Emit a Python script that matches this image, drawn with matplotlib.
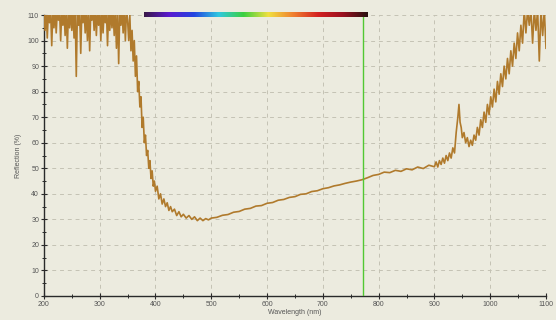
"""Reflection spectrum, recreated from a spectrometer screenshot."""

import matplotlib
matplotlib.use("Agg")
import matplotlib.pyplot as plt
import numpy as np
from matplotlib.colors import LinearSegmentedColormap
from matplotlib.ticker import MultipleLocator

# --- data ----------------------------------------------------------------
wavelength = [
    # saturated UV region (clipped at 110, with downward spikes)
    200, 202, 204, 206, 208, 210, 212, 214, 216, 218, 220, 222, 224, 226,
    228, 230, 232, 234, 236, 238, 240, 242, 244, 246, 248, 250, 252, 254,
    256, 258, 260, 262, 264, 266, 268, 270, 272, 274, 276, 278, 280, 282,
    284, 286, 288, 290, 292, 294, 296, 298, 300, 302, 304, 306, 308, 310,
    312, 314, 316, 318, 320, 322, 324, 326, 328, 330, 332, 334, 336, 338,
    340, 342, 344, 346, 348,
    # steep descent
    350, 352, 354, 356, 358, 360, 362, 364, 366, 368, 370, 372, 374, 376,
    378, 380, 382, 384, 386, 388, 390, 392, 394, 396, 398, 400, 403, 406,
    409, 412, 415, 418, 421, 424, 427, 430, 434, 438, 442, 446, 450, 455,
    460, 465, 470, 475, 480, 485, 490, 495, 500,
    # slow rise through the visible
    510, 520, 530, 540, 550, 560, 570, 580, 590, 600, 610, 620, 630, 640,
    650, 660, 670, 680, 690, 700, 710, 720, 730, 740, 750, 760, 770, 780,
    790, 800, 810, 820, 830, 840, 850, 860, 870, 880, 890, 900,
    # near infrared
    903, 906, 909, 912, 915, 918, 921, 924, 927, 930, 933, 936, 939, 942,
    944, 946, 948, 950, 953, 956, 959, 962, 965, 968, 971, 974, 977, 980,
    983, 986, 989, 992, 995, 998, 1001, 1004, 1007, 1010, 1013, 1016, 1019,
    1022, 1025, 1028, 1031, 1034, 1037, 1040, 1043, 1046, 1049, 1052, 1055,
    1058, 1061, 1064, 1067, 1070, 1073, 1076, 1079, 1082, 1085, 1088, 1091,
    1094, 1097, 1100,
]
reflection = [
    112, 104, 112, 101, 112, 107, 112, 98, 112, 105, 112, 103, 112, 108,
    112, 100, 112, 106, 112, 102, 112, 97, 112, 105, 112, 104, 112, 101,
    112, 86, 112, 106, 112, 95, 112, 107, 112, 103, 112, 100, 112, 96,
    112, 108, 112, 104, 112, 102, 112, 106, 112, 100, 112, 103, 112, 107,
    112, 98, 112, 104, 112, 105, 112, 102, 112, 97, 112, 91, 112, 106,
    112, 103, 112, 100, 112,
    108, 100, 110, 96, 104, 92, 100, 86, 94, 80, 84, 74, 78, 66,
    70, 60, 63, 55, 57, 50, 53, 46, 49, 43, 45, 41, 43, 38,
    40, 36, 38, 35, 36.5, 33.5, 35, 33, 34, 31.5, 33, 31, 32, 30.5,
    31.5, 30, 31, 29.5, 30.5, 29.5, 30.3, 29.8, 30.5,
    30.8, 31.6, 31.9, 32.8, 33.1, 34.0, 34.3, 35.2, 35.4, 36.3, 36.6, 37.5,
    37.8, 38.6, 38.9, 39.8, 40.0, 40.9, 41.2, 42.0, 42.4, 43.1, 43.5, 44.1,
    44.6, 45.0, 45.5, 46.3, 47.2, 47.6, 48.5, 48.3, 49.2, 48.8, 49.8, 49.4,
    50.5, 49.9, 51.2, 50.6,
    52.5, 50.5, 53, 51.5, 54, 52, 55, 53, 56, 54, 58, 56, 64, 70,
    75, 68, 66, 62, 64, 60, 62, 58.5, 61, 59, 63, 61, 66, 63,
    69, 66, 72, 68, 75, 71, 78, 74, 81, 76, 84, 79, 87,
    82, 90, 85, 93, 87, 96, 90, 99, 93, 103, 96, 106,
    99, 112, 103, 112, 106, 112, 99, 112, 104, 112, 92, 112,
    102, 112, 97,
]

# visible spectrum bar drawn along the top of the plot
spectrum_range = [380, 780]
spectrum_colors = ["#3a1848", "#5a1ad0", "#2444e0", "#30c8e0", "#3cd040",
                   "#f0e040", "#f08030", "#d42222", "#9a1020", "#2a1010"]
marker_wavelength = 772


def main():
    fig = plt.figure(figsize=(5.56, 3.2), dpi=100, facecolor="#ecebdf")
    ax = fig.add_axes([0.079, 0.075, 0.903, 0.878], facecolor="#ecebdf")

    ax.plot(wavelength, reflection, color="#b07a2c", lw=1.2, zorder=3)
    ax.axvline(marker_wavelength, color="#52c832", lw=1.0, zorder=4)

    cmap = LinearSegmentedColormap.from_list("vis", spectrum_colors)
    grad = np.linspace(0, 1, 256)[None, :]
    ax.imshow(grad, cmap=cmap, aspect="auto", zorder=5, clip_on=False,
              extent=[spectrum_range[0], spectrum_range[1], 109.2, 110.8])

    ax.set_xlim(200, 1100)
    ax.set_ylim(0, 110)
    ax.xaxis.set_major_locator(MultipleLocator(100))
    ax.xaxis.set_minor_locator(MultipleLocator(50))
    ax.yaxis.set_major_locator(MultipleLocator(10))
    ax.yaxis.set_minor_locator(MultipleLocator(5))

    ax.grid(True, which="major", color="#c4c2b4", lw=0.7, ls=(0, (4, 4)))
    for side in ("top", "right"):
        ax.spines[side].set_visible(False)
    for side in ("left", "bottom"):
        ax.spines[side].set_color("#2a2a2a")
        ax.spines[side].set_linewidth(1.0)

    ax.tick_params(which="major", direction="inout", length=4, width=0.8,
                   labelsize=5, colors="#2a2a2a", pad=1.5)
    ax.tick_params(which="minor", direction="inout", length=3, width=0.7,
                   colors="#2a2a2a")
    for lab in ax.get_xticklabels() + ax.get_yticklabels():
        lab.set_family("Liberation Sans")
        lab.set_color("#555555")

    ax.set_xlabel("Wavelength (nm)", fontsize=5, family="Liberation Sans",
                  color="#555555", labelpad=1)
    ax.set_ylabel("Reflection (%)", fontsize=5, family="Liberation Sans",
                  color="#555555", labelpad=4)

    fig.savefig("out.png", dpi=100, facecolor=fig.get_facecolor())
    plt.close(fig)


if __name__ == "__main__":
    main()
